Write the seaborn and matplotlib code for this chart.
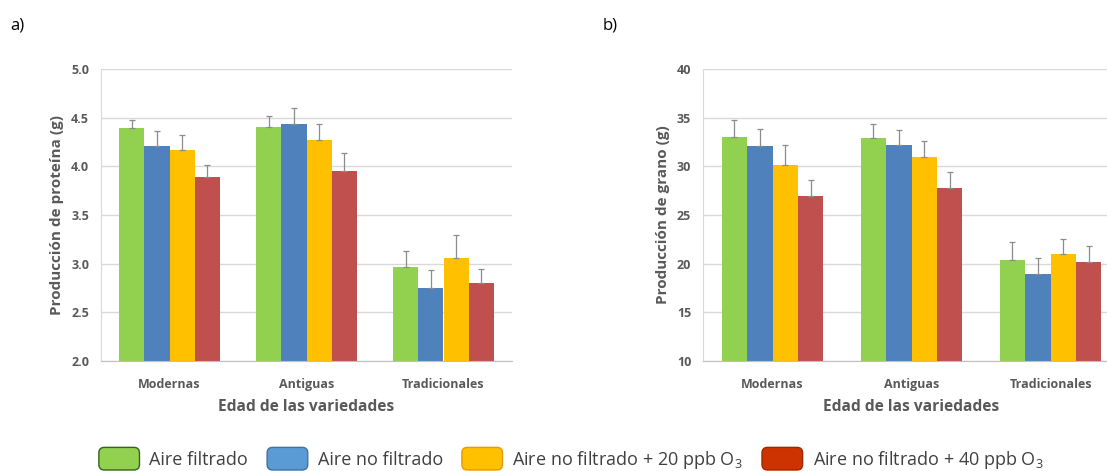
import numpy as np
import pandas as pd
import matplotlib
matplotlib.use("Agg")
import matplotlib.pyplot as plt
import seaborn as sns
from matplotlib.patches import Patch, FancyBboxPatch
from matplotlib.legend_handler import HandlerPatch

# data
categories = ["Modernas", "Antiguas", "Tradicionales"]
treatments = ["Aire filtrado", "Aire no filtrado",
              "Aire no filtrado + 20 ppb O$_3$", "Aire no filtrado + 40 ppb O$_3$"]

# protein production (g), one list per treatment: Modernas, Antiguas, Tradicionales
protein_mean = [[4.39, 4.40, 2.97],
                [4.21, 4.44, 2.75],
                [4.17, 4.27, 3.06],
                [3.89, 3.95, 2.80]]
protein_err = [[0.09, 0.12, 0.16],
               [0.15, 0.16, 0.18],
               [0.15, 0.16, 0.23],
               [0.12, 0.19, 0.15]]

# grain production (g)
grain_mean = [[33.0, 32.9, 20.4],
              [32.1, 32.2, 18.9],
              [30.1, 31.0, 20.95],
              [26.95, 27.75, 20.15]]
grain_err = [[1.75, 1.45, 1.85],
             [1.75, 1.50, 1.65],
             [2.05, 1.60, 1.55],
             [1.65, 1.70, 1.70]]

bar_colors = ["#92D050", "#4F81BD", "#FFC000", "#C0504D"]
legend_colors = ["#92D050", "#5B9BD5", "#FFC000", "#CC3300"]
legend_edges = ["#3A5F1E", "#41719C", "#E39B00", "#A02800"]

sns.set_style("white")
plt.rcParams["font.family"] = ["Open Sans", "DejaVu Sans"]
plt.rcParams["mathtext.default"] = "regular"

txt_gray = "#595959"


class RoundedHandler(HandlerPatch):
    # rounded swatch like the original legend
    def create_artists(self, legend, orig_handle, xdescent, ydescent,
                       width, height, fontsize, trans):
        p = FancyBboxPatch((-xdescent, -ydescent), width, height,
                           boxstyle="round,pad=0,rounding_size=4",
                           facecolor=orig_handle.get_facecolor(),
                           edgecolor=orig_handle.get_edgecolor(),
                           linewidth=1, transform=trans)
        return [p]


def make_df(means, errs):
    rows = []
    for t, name in enumerate(treatments):
        for c, cat in enumerate(categories):
            rows.append({"edad": cat, "trat": name, "valor": means[t][c], "err": errs[t][c]})
    return pd.DataFrame(rows)


def draw_panel(ax, means, errs, ylim, yticks, fmt, ylabel, boundary_ticks):
    df = make_df(means, errs)
    sns.barplot(data=df, x="edad", y="valor", hue="trat", order=categories,
                hue_order=treatments, palette=bar_colors, width=0.73,
                errorbar=None, legend=False, linewidth=0, saturation=1, ax=ax)
    # upward-only error bars at each bar centre
    bars = sorted(ax.patches, key=lambda p: p.get_x())
    df["cat_i"] = df["edad"].map(categories.index)
    df["trt_i"] = df["trat"].map(treatments.index)
    df = df.sort_values(["cat_i", "trt_i"])
    xs = [p.get_x() + p.get_width() / 2 for p in bars]
    ys = [p.get_height() for p in bars]
    e = df["err"].to_numpy()
    ax.errorbar(xs, ys, yerr=[np.zeros_like(e), e], fmt="none",
                ecolor="#8C8C8C", elinewidth=0.9, capsize=2, capthick=0.9, zorder=3)

    ax.set_ylim(*ylim)
    ax.set_xlim(-0.5, 2.5)
    ax.set_yticks(yticks)
    ax.set_yticklabels([fmt.format(v) for v in yticks])
    ax.yaxis.grid(True, color="#D9D9D9", linewidth=1)
    ax.set_axisbelow(True)
    for s in ["top", "right"]:
        ax.spines[s].set_visible(False)
    ax.spines["left"].set_color("#D9D9D9")
    ax.spines["bottom"].set_color("#BFBFBF")
    ax.tick_params(axis="both", length=0, labelsize=9, labelcolor=txt_gray)
    ax.tick_params(axis="y", pad=8.5)
    ax.tick_params(axis="x", pad=12)
    for lab in ax.get_xticklabels() + ax.get_yticklabels():
        lab.set_fontweight("bold")
    if boundary_ticks:
        ax.set_xticks([0.5, 1.5], minor=True)
        ax.tick_params(axis="x", which="minor", length=3, color="#BFBFBF", direction="out")
    ax.set_xlabel("Edad de las variedades", fontsize=11.2, fontweight="bold",
                  color=txt_gray, labelpad=6)
    ax.set_ylabel(ylabel, fontsize=11, fontweight="bold", color=txt_gray, labelpad=5)


fig = plt.figure(figsize=(11.07, 4.71), dpi=100)
ax1 = fig.add_axes([101 / 1107, 110 / 471, 411 / 1107, 292 / 471])
ax2 = fig.add_axes([703 / 1107, 110 / 471, 417 / 1107, 292 / 471])

draw_panel(ax1, protein_mean, protein_err, (2.0, 5.0),
           [2.0, 2.5, 3.0, 3.5, 4.0, 4.5, 5.0], "{:.1f}",
           "Producción de proteína (g)", False)
draw_panel(ax2, grain_mean, grain_err, (10, 40),
           [10, 15, 20, 25, 30, 35, 40], "{:.0f}",
           "Producción de grano (g)", True)

fig.text(10 / 1107, 1 - 25 / 471, "a)", fontsize=12, va="center", ha="left", color="#000000")
fig.text(603 / 1107, 1 - 25 / 471, "b)", fontsize=12, va="center", ha="left", color="#000000")

# legend with rounded swatches along the bottom
handles = [Patch(facecolor=c, edgecolor=ec) for c, ec in zip(legend_colors, legend_edges)]
leg = fig.legend(handles, treatments, loc="center", bbox_to_anchor=(571 / 1107, 1 - 459 / 471),
                 ncol=4, frameon=False, fontsize=13, handlelength=2.25, handleheight=1.55,
                 handletextpad=0.55, columnspacing=1.05, labelcolor="#404040",
                 handler_map={Patch: RoundedHandler()})

fig.savefig("out.png", dpi=100)
